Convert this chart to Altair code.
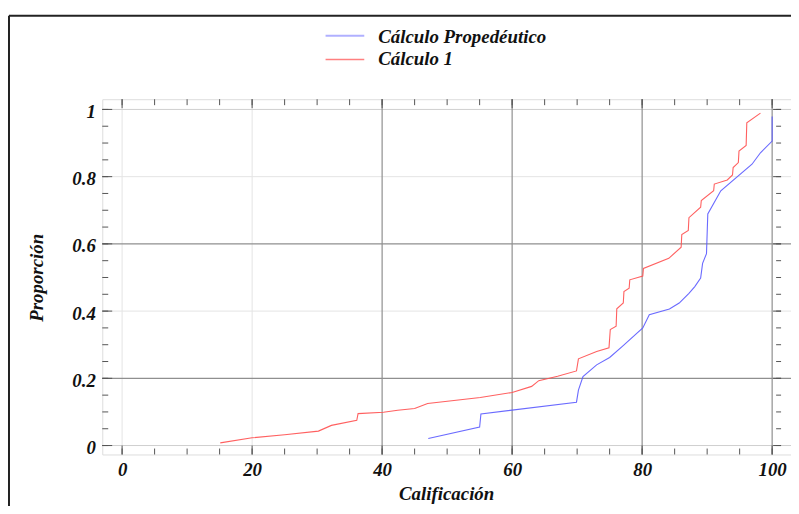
import altair as alt
import pandas as pd

# ---------------- data ----------------
series_names = ["Cálculo Propedéutico", "Cálculo 1"]
series_colors = ["#5a5aff", "#ff4f4f"]

prop_x = [47.1, 55.0, 55.2, 69.9, 70.2, 70.9, 73.0, 75.0, 77.0, 80.1, 81.1, 84.2,
          85.7, 87.2, 88.1, 89.0, 89.3, 89.9, 90.1, 92.1, 96.9, 98.2, 100.0, 100.0]
prop_y = [0.021, 0.055, 0.094, 0.129, 0.165, 0.205, 0.240, 0.262, 0.296, 0.350, 0.389, 0.406,
          0.424, 0.453, 0.473, 0.498, 0.542, 0.571, 0.689, 0.758, 0.837, 0.871, 0.906, 0.979]

c1_x = [15.1, 20.0, 25.0, 30.2, 32.2, 36.1, 36.3, 40.2, 42.4, 45.0, 47.0, 55.1,
        60.0, 63.0, 64.1, 67.0, 69.9, 70.2, 73.0, 74.9, 75.1, 76.0, 76.1, 77.1,
        77.2, 78.0, 78.1, 80.1, 80.2, 84.1, 86.0, 86.1, 87.1, 87.2, 89.0, 89.1,
        91.0, 91.1, 93.1, 93.9, 94.0, 94.8, 94.9, 96.0, 96.1, 98.2]
c1_y = [0.008, 0.023, 0.032, 0.043, 0.060, 0.075, 0.095, 0.099, 0.105, 0.110, 0.125, 0.143,
        0.158, 0.176, 0.193, 0.206, 0.222, 0.258, 0.280, 0.291, 0.345, 0.355, 0.407, 0.424,
        0.458, 0.468, 0.493, 0.504, 0.527, 0.557, 0.590, 0.628, 0.640, 0.678, 0.709, 0.729,
        0.758, 0.778, 0.790, 0.805, 0.827, 0.842, 0.876, 0.893, 0.960, 0.989]

x_ticks = [0, 20, 40, 60, 80, 100]
y_ticks = [0, 0.2, 0.4, 0.6, 0.8, 1]
x_minor = [v for v in range(0, 101, 5)]
y_minor = [round(v * 0.05, 2) for v in range(0, 21)]

x_grid_dark = [40, 60, 80, 100]
x_grid_light = [0, 20]
y_grid_dark = [0.2, 0.6]
y_grid_mid = [0, 1]
y_grid_light = [0.4, 0.8]

x_title = "Calificación"
y_title = "Proporción"

# ---------------- layout ----------------
W, H = 694, 358
XDOM = [-3.05, 102.9]
YDOM = [-0.0266, 1.0304]
FONT = "Liberation Serif"

xs = alt.Scale(domain=XDOM, nice=False, zero=False)
ys = alt.Scale(domain=YDOM, nice=False, zero=False)

X_AX = alt.Axis(values=x_ticks, grid=False, ticks=False, domain=False, title=None,
                labelFont=FONT, labelFontSize=19, labelFontWeight="bold",
                labelFontStyle="italic", labelColor="#111", labelPadding=6,
                labelFlush=False, labelOverlap=False)
Y_AX = alt.Axis(values=y_ticks, grid=False, ticks=False, domain=False, title=None,
                format="~g", labelFont=FONT, labelFontSize=19, labelFontWeight="bold",
                labelFontStyle="italic", labelColor="#111", labelPadding=7,
                labelFlush=False, labelOverlap=False, labelOffset=2)

rows = []
for i, (xv, yv) in enumerate(zip(prop_x, prop_y)):
    rows.append({"serie": series_names[0], "x": xv, "y": yv, "i": i})
for i, (xv, yv) in enumerate(zip(c1_x, c1_y)):
    rows.append({"serie": series_names[1], "x": xv, "y": yv, "i": i})
df = pd.DataFrame(rows)


def vgrid(vals, color, w):
    return alt.Chart(pd.DataFrame({"x": vals})).mark_rule(color=color, strokeWidth=w).encode(
        x=alt.X("x:Q", scale=xs, axis=X_AX))


def hgrid(vals, color, w):
    return alt.Chart(pd.DataFrame({"y": vals})).mark_rule(color=color, strokeWidth=w).encode(
        y=alt.Y("y:Q", scale=ys, axis=Y_AX))


def xticks(vals, y0, y1):
    return alt.Chart(pd.DataFrame({"x": vals})).mark_rule(color="#555", strokeWidth=1).encode(
        x=alt.X("x:Q", scale=xs, axis=X_AX), y=alt.value(y0), y2=alt.value(y1))


def yticks(vals, x0, x1):
    return alt.Chart(pd.DataFrame({"y": vals})).mark_rule(color="#555", strokeWidth=1).encode(
        y=alt.Y("y:Q", scale=ys, axis=Y_AX), x=alt.value(x0), x2=alt.value(x1))


def label(text, x, y, size=19, angle=0, align="left", baseline="middle"):
    kw = dict(font=FONT, fontSize=size, fontWeight="bold", fontStyle="italic",
              align=align, baseline=baseline, color="#111")
    if angle:
        kw["angle"] = angle
    return alt.Chart(pd.DataFrame({"t": [text]})).mark_text(**kw).encode(
        text="t:N", x=alt.value(x), y=alt.value(y))


def seg(x0, x1, y0, y1, color, w):
    return alt.Chart(pd.DataFrame({"a": [0]})).mark_rule(color=color, strokeWidth=w).encode(
        x=alt.value(x0), x2=alt.value(x1), y=alt.value(y0), y2=alt.value(y1))


grid = [
    vgrid(x_grid_light, "#e4e4e4", 1),
    hgrid(y_grid_light, "#e4e4e4", 1),
    hgrid(y_grid_mid, "#cfcfcf", 1),
    vgrid(x_grid_dark, "#8f8f8f", 1.2),
    hgrid(y_grid_dark, "#8f8f8f", 1.2),
]

ticks = [
    xticks(x_minor, H, H - 6), xticks(x_ticks, H, H - 9),
    xticks(x_minor, 0, 6), xticks(x_ticks, 0, 9),
    yticks(y_minor, 0, 6), yticks(y_ticks, 0, 10),
    yticks(y_minor, 679, 684), yticks(y_ticks, 676, 684),
]

lines = alt.Chart(df).mark_line(strokeWidth=1.1, opacity=0.9).encode(
    x=alt.X("x:Q", scale=xs, axis=X_AX),
    y=alt.Y("y:Q", scale=ys, axis=Y_AX),
    color=alt.Color("serie:N", scale=alt.Scale(domain=series_names, range=series_colors), legend=None),
    detail="serie:N",
    order="i:Q",
)

legend = [
    seg(225, 264, -64, -64, "#b0b0ff", 2),
    label(series_names[0], 278, -63),
    seg(225, 264, -40, -40, "#ff8080", 1.5),
    label(series_names[1], 278, -40),
]

titles = [
    label(x_title, 347, 404, align="center", baseline="alphabetic"),
    label(y_title, -66, 180, angle=270, align="center"),
]

frame = [
    seg(-94, -94, -84, 410, "#222", 2),
    seg(-94, W, -84, -84, "#222", 2),
]

chart = alt.layer(*grid, *ticks, lines, *legend, *titles, *frame).properties(
    width=W, height=H,
    autosize=alt.AutoSizeParams(type="none"),
    padding={"left": 95, "top": 90, "right": 0, "bottom": 50},
).configure_view(stroke="#666", strokeWidth=1).configure(background="white")

chart.save("out.html", embed_options={"renderer": "svg", "actions": False})
